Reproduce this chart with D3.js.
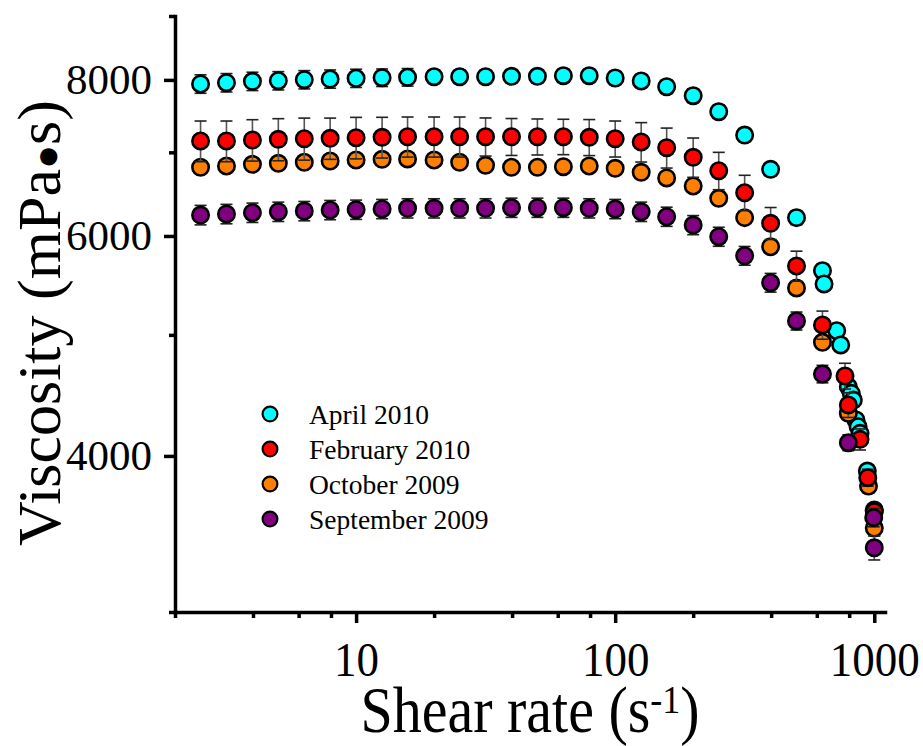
<!DOCTYPE html>
<html>
<head>
<meta charset="utf-8">
<script src="https://cdn.jsdelivr.net/npm/d3@7"></script>
<style>
  html, body { margin: 0; padding: 0; background: #fff; }
  svg { display: block; }
</style>
</head>
<body>
<svg id="chart" width="923" height="746"></svg>
<script>
// Logarithmic shear-rate ramp used for every sample (s^-1)
const shearRamp = [2.51, 3.16, 3.98, 5.01, 6.31, 7.94, 10, 12.6, 15.8, 20, 25.1, 31.6, 39.8,
                   50.1, 63.1, 79.4, 100, 126, 158, 200, 251, 316, 398, 501, 631];

// Viscosity (mPa·s) along the ramp, with standard deviations
const april2010 = [7940, 7959, 7979, 7988, 8003, 8013, 8024, 8033, 8039, 8047, 8047, 8047, 8053,
                   8053, 8062, 8062, 8028, 7984, 7900, 7770, 7545, 7227, 6784, 6206, 5628];
const april2010Sd = [135, 135, 135, 135, 135, 135, 135, 130, 130, 100, 100, 100, 100,
                     100, 100, 100, 100, 100, 100, 100, 95, 90, 85, 80, 70];
const february2010 = [7148, 7148, 7161, 7170, 7178, 7183, 7191, 7197, 7205, 7205, 7205, 7205, 7205,
                      7205, 7205, 7197, 7178, 7135, 7060, 6936, 6767, 6498, 6142, 5677, 5092];
const february2010Sd = [268, 268, 273, 278, 278, 273, 275, 270, 266, 266, 266, 253, 245,
                        239, 235, 239, 238, 259, 260, 251, 233, 212, 181, 157, 132];
const october2009 = [6810, 6826, 6847, 6860, 6873, 6889, 6902, 6911, 6915, 6902, 6873, 6835, 6810,
                     6810, 6817, 6826, 6797, 6747, 6677, 6579, 6431, 6206, 5882, 5452, 4932];
const october2009Sd = [60, 60, 60, 60, 60, 60, 60, 60, 60, 60, 60, 60, 60,
                       60, 60, 60, 60, 60, 60, 55, 55, 50, 50, 45, 45];
const september2009 = [6236, 6248, 6263, 6274, 6282, 6294, 6298, 6306, 6314, 6314, 6314, 6314, 6321,
                       6321, 6321, 6314, 6306, 6274, 6217, 6122, 5992, 5785, 5505, 5130, 4652];
const september2009Sd = [112, 112, 112, 112, 112, 112, 112, 112, 112, 112, 112, 112, 112,
                         112, 112, 112, 112, 112, 110, 108, 105, 100, 95, 85, 75];

// High-rate readings taken after the ramp (shear rate, viscosity, SD)
const april2010HighRate = [640, 716, 742, 794, 815, 830, 850, 866, 881, 940, 1000];
const april2010High     = [5492, 5039, 4908, 4544, 4489, 4434, 4274, 4221, 4170, 3890, 3620];
const april2010HighSd   = [12, 60, 60, 55, 55, 55, 50, 50, 50, 45, 40];
const february2010HighRate = [771, 794, 881, 944, 1000];
const february2010High     = [4635, 4394, 4124, 3843, 3610];
const february2010HighSd   = [110, 100, 80, 60, 50];
const october2009HighRate = [794, 950, 1000];
const october2009High     = [4327, 3784, 3502];
const october2009HighSd   = [50, 50, 50];
const september2009HighRate = [794, 995, 1000];
const september2009High     = [4099, 3570, 3377];
const september2009HighSd   = [60, 60, 75];

// Legend / series order and colours
const seriesNames  = ["April 2010", "February 2010", "October 2009", "September 2009"];
const seriesColors = ["#00ffff", "#ff0000", "#ff8000", "#800080"];

// Axis ticks
const xMajorTicks = [10, 100, 1000];
const xMinorTicks = [2, 4, 6, 8, 20, 40, 60, 80, 200, 400, 600, 800];
const yMajorTicks = [4000, 6000, 8000];
const yMinorTicks = [3000, 5000, 7000, 9000];

const xTitle = "Shear rate (s";
const xTitleSup = "-1";
const yTitleParts = ["Viscosity (mPa", "\u25CF", "s)"];

function buildSeries(name, color, ramp, rampSd, hx, hv, hsd) {
  const pts = ramp.map((v, i) => ({ x: shearRamp[i], v, sd: rampSd[i] }))
    .concat(hx.map((r, i) => ({ x: r, v: hv[i], sd: hsd[i] })));
  return { name, color, points: pts };
}

const series = [
  buildSeries(seriesNames[0], seriesColors[0], april2010, april2010Sd, april2010HighRate, april2010High, april2010HighSd),
  buildSeries(seriesNames[1], seriesColors[1], february2010, february2010Sd, february2010HighRate, february2010High, february2010HighSd),
  buildSeries(seriesNames[2], seriesColors[2], october2009, october2009Sd, october2009HighRate, october2009High, october2009HighSd),
  buildSeries(seriesNames[3], seriesColors[3], september2009, september2009Sd, september2009HighRate, september2009High, september2009HighSd)
];
// Stacking order of the plotted layers (bottom to top)
const drawOrder = [0, 2, 1, 3];

const FONT = "'Liberation Serif', 'Times New Roman', Times, serif";
const svg = d3.select("#chart");

const x = d3.scaleLog().domain([2, 1100]).range([175, 885]);
const y = d3.scaleLog().domain([3000, 9000]).range([612, 16]);

// Axes
const axisW = 3.5;
function styleAxis(g) {
  g.select(".domain").attr("stroke", "#000").attr("stroke-width", axisW).attr("stroke-linecap", "square");
  g.selectAll(".tick line").attr("stroke", "#000").attr("stroke-width", axisW);
  g.selectAll("text").attr("fill", "#000").attr("font-family", FONT);
}

const gxMinor = svg.append("g").attr("transform", "translate(0,612)")
  .call(d3.axisBottom(x).tickValues(xMinorTicks).tickSize(6).tickSizeOuter(0).tickFormat(""));
styleAxis(gxMinor);
gxMinor.select(".domain").remove();
const gx = svg.append("g").attr("transform", "translate(0,612)")
  .call(d3.axisBottom(x).tickValues(xMajorTicks).tickSize(11).tickSizeOuter(0)
    .tickFormat(d3.format("d")));
styleAxis(gx);
// bottom-axis numerals: baseline 64px under the axis, drawn a little taller than wide
gx.selectAll(".tick text")
  .attr("font-size", 45)
  .attr("y", null).attr("dy", null)
  .attr("transform", "translate(0,64) scale(1,1.1)");

const gyMinor = svg.append("g").attr("transform", "translate(175,0)")
  .call(d3.axisLeft(y).tickValues(yMinorTicks).tickSize(6).tickSizeOuter(0).tickFormat(""));
styleAxis(gyMinor);
gyMinor.select(".domain").remove();
const gy = svg.append("g").attr("transform", "translate(175,0)")
  .call(d3.axisLeft(y).tickValues(yMajorTicks).tickSize(11).tickSizeOuter(0)
    .tickPadding(12).tickFormat(d3.format("d")));
styleAxis(gy);
gy.selectAll("text").attr("font-size", 43);

// Axis titles
const xt = svg.append("text")
  .attr("transform", "translate(530,732) scale(1,1.14)")
  .attr("text-anchor", "middle")
  .attr("font-family", FONT).attr("font-size", 58).attr("fill", "#000");
xt.append("tspan").text(xTitle);
xt.append("tspan").attr("font-size", 36).attr("dy", -17).text(xTitleSup);
xt.append("tspan").attr("dy", 17).text(")");

const yt = svg.append("text")
  .attr("transform", "translate(60,323) rotate(-90)")
  .attr("text-anchor", "middle")
  .attr("font-family", FONT).attr("font-size", 62).attr("fill", "#000");
yt.append("tspan").text(yTitleParts[0]);
yt.append("tspan").attr("font-size", 40).text(yTitleParts[1]);
yt.append("tspan").text(yTitleParts[2]);

// Data layers: error bars beneath each series' markers
const R = 8.2, CAP = 6;
drawOrder.forEach(si => {
  const s = series[si];
  const g = svg.append("g");
  const eb = g.append("g").selectAll("g").data(s.points).join("g");
  eb.append("line")
    .attr("x1", d => x(d.x)).attr("x2", d => x(d.x))
    .attr("y1", d => y(d.v + d.sd)).attr("y2", d => y(d.v - d.sd))
    .attr("stroke", "#555").attr("stroke-width", 1.6);
  [1, -1].forEach(sign => {
    eb.append("line")
      .attr("x1", d => x(d.x) - CAP).attr("x2", d => x(d.x) + CAP)
      .attr("y1", d => y(d.v + sign * d.sd)).attr("y2", d => y(d.v + sign * d.sd))
      .attr("stroke", "#222").attr("stroke-width", 1.6);
  });
  g.append("g").selectAll("circle").data(s.points).join("circle")
    .attr("cx", d => x(d.x)).attr("cy", d => y(d.v)).attr("r", R)
    .attr("fill", s.color).attr("stroke", "#000").attr("stroke-width", 2.6);
});

// Legend
const legend = svg.append("g");
const li = legend.selectAll("g").data(series).join("g")
  .attr("transform", (d, i) => `translate(270,${414 + i * 35})`);
li.append("circle").attr("r", 7.4).attr("fill", d => d.color)
  .attr("stroke", "#000").attr("stroke-width", 2.2);
li.append("text").attr("x", 39).attr("dy", "0.35em")
  .attr("font-family", FONT).attr("font-size", 27.5).attr("fill", "#000")
  .text(d => d.name);
</script>
</body>
</html>
